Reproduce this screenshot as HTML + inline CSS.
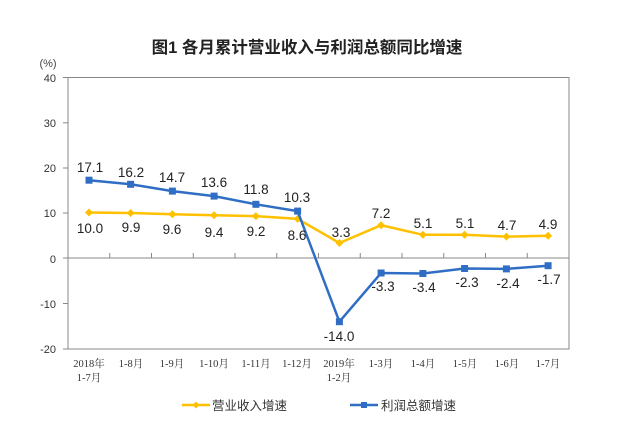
<!DOCTYPE html>
<html><head><meta charset="utf-8"><style>
body{margin:0;background:#fff;}
svg{display:block;font-family:"Liberation Sans","Noto Sans CJK SC",sans-serif;}
</style></head><body>
<svg width="638" height="427" viewBox="0 0 638 427" xmlns="http://www.w3.org/2000/svg">
<rect width="638" height="427" fill="#fff"/>
<text x="307" y="53" text-anchor="middle" font-size="16.5" font-weight="bold" fill="#222" font-family="'Liberation Sans','Noto Sans CJK SC',sans-serif">图1  各月累计营业收入与利润总额同比增速</text>
<text x="48" y="67" font-size="11" fill="#444" text-anchor="middle">(%)</text>
<rect x="68" y="77.5" width="501" height="271.5" fill="none" stroke="#888" stroke-width="1"/>
<g font-size="11" fill="#333" text-anchor="end">
<text x="56" y="82">40</text><text x="56" y="127">30</text><text x="56" y="172">20</text>
<text x="56" y="217">10</text><text x="56" y="263">0</text><text x="56" y="308">-10</text><text x="56" y="353">-20</text>
</g>
<g stroke="#888" stroke-width="1">
<line x1="68" y1="258" x2="569" y2="258"/>
<line x1="63" y1="77.5" x2="68" y2="77.5"/><line x1="63" y1="122.8" x2="68" y2="122.8"/><line x1="63" y1="168" x2="68" y2="168"/><line x1="63" y1="213" x2="68" y2="213"/><line x1="63" y1="258" x2="68" y2="258"/><line x1="63" y1="303.5" x2="68" y2="303.5"/><line x1="63" y1="349" x2="68" y2="349"/>
<line x1="109.75" y1="253" x2="109.75" y2="258"/><line x1="151.5" y1="253" x2="151.5" y2="258"/><line x1="193.25" y1="253" x2="193.25" y2="258"/><line x1="235" y1="253" x2="235" y2="258"/><line x1="276.75" y1="253" x2="276.75" y2="258"/><line x1="318.5" y1="253" x2="318.5" y2="258"/><line x1="360.25" y1="253" x2="360.25" y2="258"/><line x1="402" y1="253" x2="402" y2="258"/><line x1="443.75" y1="253" x2="443.75" y2="258"/><line x1="485.5" y1="253" x2="485.5" y2="258"/><line x1="527.25" y1="253" x2="527.25" y2="258"/>
</g>
<polyline fill="none" stroke="#ffc000" stroke-width="2.5" points="89,212.5 130.6,213 172.4,214.3 214.1,215.2 255.9,216.1 297.6,218.9 339.4,243 381.1,225.2 422.9,234.8 464.6,234.8 506.4,236.6 548.1,235.7"/>
<g fill="#ffc000">
<path d="M89,208.5l4,4l-4,4l-4,-4z"/><path d="M130.6,209l4,4l-4,4l-4,-4z"/><path d="M172.4,210.3l4,4l-4,4l-4,-4z"/><path d="M214.1,211.2l4,4l-4,4l-4,-4z"/><path d="M255.9,212.1l4,4l-4,4l-4,-4z"/><path d="M297.6,214.9l4,4l-4,4l-4,-4z"/><path d="M339.4,239l4,4l-4,4l-4,-4z"/><path d="M381.1,221.2l4,4l-4,4l-4,-4z"/><path d="M422.9,230.8l4,4l-4,4l-4,-4z"/><path d="M464.6,230.8l4,4l-4,4l-4,-4z"/><path d="M506.4,232.6l4,4l-4,4l-4,-4z"/><path d="M548.1,231.7l4,4l-4,4l-4,-4z"/>
</g>
<polyline fill="none" stroke="#2f6ec4" stroke-width="2.5" points="89,180.2 130.6,184.3 172.4,191.1 214.1,196.1 255.9,204.3 297.6,211.1 339.4,321.7 381.1,273 422.9,273.5 464.6,268.5 506.4,268.9 548.1,265.7"/>
<g fill="#2f6ec4">
<rect x="85.5" y="176.7" width="7" height="7"/><rect x="127.1" y="180.8" width="7" height="7"/><rect x="168.9" y="187.6" width="7" height="7"/><rect x="210.6" y="192.6" width="7" height="7"/><rect x="252.4" y="200.8" width="7" height="7"/><rect x="294.1" y="207.6" width="7" height="7"/><rect x="335.9" y="318.2" width="7" height="7"/><rect x="377.6" y="269.5" width="7" height="7"/><rect x="419.4" y="270" width="7" height="7"/><rect x="461.1" y="265" width="7" height="7"/><rect x="502.9" y="265.4" width="7" height="7"/><rect x="544.6" y="262.2" width="7" height="7"/>
</g>
<g font-size="13.5" fill="#222" text-anchor="middle">
<text x="90" y="172">17.1</text><text x="131" y="177">16.2</text><text x="172" y="182">14.7</text><text x="214" y="187">13.6</text><text x="256" y="194">11.8</text><text x="297" y="202">10.3</text>
<text x="90" y="233">10.0</text><text x="131" y="232">9.9</text><text x="172" y="234">9.6</text><text x="214" y="237">9.4</text><text x="256" y="236">9.2</text><text x="297" y="240">8.6</text>
<text x="341" y="237">3.3</text><text x="381" y="218">7.2</text><text x="423" y="228">5.1</text><text x="465" y="228">5.1</text><text x="507" y="230">4.7</text><text x="548" y="229">4.9</text>
<text x="339" y="341">-14.0</text><text x="383" y="291">-3.3</text><text x="424" y="292">-3.4</text><text x="467" y="287">-2.3</text><text x="508" y="288">-2.4</text><text x="549" y="284">-1.7</text>
</g>
<g font-size="10.5" fill="#333" text-anchor="middle" font-family="'Liberation Serif','Noto Serif CJK SC',serif">
<text x="89" y="367">2018年</text><text x="89" y="381">1-7月</text>
<text x="131" y="367">1-8月</text><text x="172" y="367">1-9月</text><text x="214" y="367">1-10月</text><text x="256" y="367">1-11月</text><text x="297" y="367">1-12月</text>
<text x="339" y="367">2019年</text><text x="339" y="381">1-2月</text>
<text x="381" y="367">1-3月</text><text x="423" y="367">1-4月</text><text x="465" y="367">1-5月</text><text x="507" y="367">1-6月</text><text x="548" y="367">1-7月</text>
</g>
<line x1="182" y1="405" x2="210" y2="405" stroke="#ffc000" stroke-width="2.5"/>
<path d="M196,401.5l3.5,3.5l-3.5,3.5l-3.5,-3.5z" fill="#ffc000"/>
<text x="212" y="410" font-size="12.5" fill="#333">营业收入增速</text>
<line x1="350" y1="405" x2="378" y2="405" stroke="#2f6ec4" stroke-width="2.5"/>
<rect x="361" y="402" width="6" height="6" fill="#2f6ec4"/>
<text x="381" y="410" font-size="12.5" fill="#333">利润总额增速</text>
</svg>
</body></html>
